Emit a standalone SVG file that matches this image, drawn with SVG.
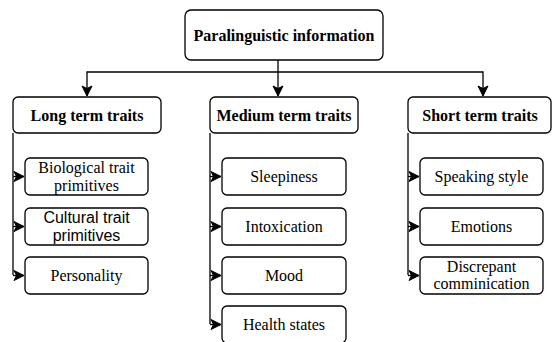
<svg xmlns="http://www.w3.org/2000/svg" width="552" height="342" viewBox="0 0 552 342">
<style>
.box{fill:#fff;stroke:#000;stroke-width:1.3}
.t{font-family:"Liberation Serif","Times New Roman",serif;font-size:16px;fill:#000;text-anchor:middle}
.b{font-weight:bold}
.s{font-family:"Liberation Sans",Arial,sans-serif}
.e{fill:none;stroke:#000;stroke-width:1.3}
</style>
<defs>
<marker id="a" markerUnits="userSpaceOnUse" markerWidth="14" markerHeight="14" refX="11" refY="6" orient="auto">
<path d="M11,6 L1,1 L3.5,6 L1,11 Z" fill="#000" stroke="#000" stroke-width="1"/>
</marker>
</defs>
<g id="edges">
<path class="e" d="M278,60 V96" marker-end="url(#a)"/>
<path class="e" d="M278,72 H87 V96" marker-end="url(#a)"/>
<path class="e" d="M278,72 H483 V96" marker-end="url(#a)"/>
<path class="e" d="M13,133 V275"/>
<path class="e" d="M13,176.5 H24" marker-end="url(#a)"/>
<path class="e" d="M13,226.5 H24" marker-end="url(#a)"/>
<path class="e" d="M13,275.5 H24" marker-end="url(#a)"/>
<path class="e" d="M210,133 V324"/>
<path class="e" d="M210,176.5 H221" marker-end="url(#a)"/>
<path class="e" d="M210,226.5 H221" marker-end="url(#a)"/>
<path class="e" d="M210,275.5 H221" marker-end="url(#a)"/>
<path class="e" d="M210,324.5 H221" marker-end="url(#a)"/>
<path class="e" d="M408,133 V275"/>
<path class="e" d="M408,176.5 H419" marker-end="url(#a)"/>
<path class="e" d="M408,226.5 H419" marker-end="url(#a)"/>
<path class="e" d="M408,275.5 H419" marker-end="url(#a)"/>
</g>
<g id="root"><rect class="box" x="185" y="10" width="198" height="50" rx="6"/><text class="t b" x="284" y="40.5">Paralinguistic information</text></g>
<g id="long"><rect class="box" x="13" y="97" width="148" height="36" rx="5"/><text class="t b" x="87" y="121">Long term traits</text></g>
<g id="medium"><rect class="box" x="210" y="97" width="148" height="36" rx="5"/><text class="t b" x="284" y="121">Medium term traits</text></g>
<g id="short"><rect class="box" x="408" y="97" width="143" height="36" rx="5"/><text class="t b" x="480" y="121">Short term traits</text></g>
<g id="bio"><rect class="box" x="25" y="158" width="123" height="37" rx="5"/><text class="t" x="86.5" y="172.5">Biological trait</text><text class="t" x="86.5" y="190.5">primitives</text></g>
<g id="cult"><rect class="box" x="25" y="208" width="123" height="37" rx="5"/><text class="t s" x="86.5" y="222.5">Cultural trait</text><text class="t s" x="86.5" y="240.5">primitives</text></g>
<g id="pers"><rect class="box" x="25" y="257" width="123" height="37" rx="5"/><text class="t" x="86.5" y="281">Personality</text></g>
<g id="sleep"><rect class="box" x="222" y="158" width="124" height="37" rx="5"/><text class="t" x="284" y="182">Sleepiness</text></g>
<g id="intox"><rect class="box" x="222" y="208" width="124" height="37" rx="5"/><text class="t" x="284" y="231.5">Intoxication</text></g>
<g id="mood"><rect class="box" x="222" y="257" width="124" height="37" rx="5"/><text class="t" x="284" y="281">Mood</text></g>
<g id="health"><rect class="box" x="222" y="306" width="124" height="37" rx="5"/><text class="t" x="284" y="330">Health states</text></g>
<g id="speak"><rect class="box" x="420" y="158" width="123" height="37" rx="5"/><text class="t" x="481.5" y="182">Speaking style</text></g>
<g id="emo"><rect class="box" x="420" y="208" width="123" height="37" rx="5"/><text class="t" x="481.5" y="231.5">Emotions</text></g>
<g id="disc"><rect class="box" x="420" y="257" width="123" height="37" rx="5"/><text class="t" x="481.5" y="271.5">Discrepant</text><text class="t" x="481.5" y="289">comminication</text></g>
</svg>
